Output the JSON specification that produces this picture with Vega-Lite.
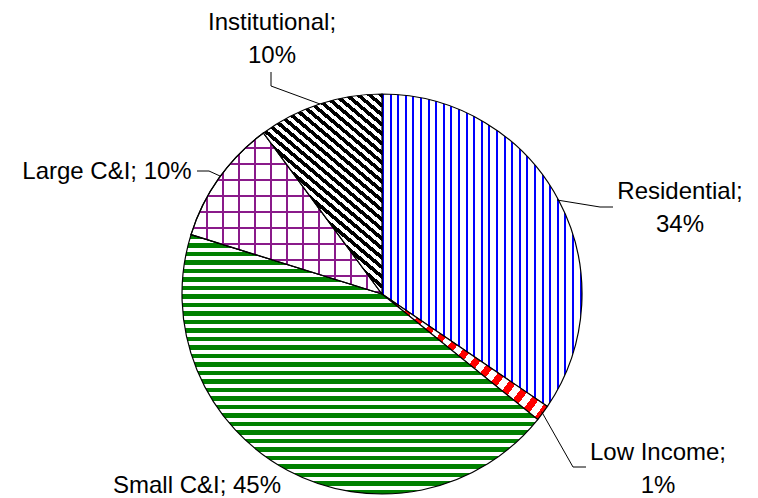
{
  "$schema": "https://vega.github.io/schema/vega-lite/v6.json",
  "width": 758,
  "height": 498,
  "autosize": "none",
  "padding": 0,
  "background": "white",
  "config": {"view": {"stroke": null}},
  "datasets": {
    "slices": [
      {"category": "Residential", "share": 34.5},
      {"category": "Low Income", "share": 1.3},
      {"category": "Small C&I", "share": 44.0},
      {"category": "Large C&I", "share": 10.1},
      {"category": "Institutional", "share": 10.1}
    ],
    "labels": [
      {"category": "Institutional", "label": "Institutional;\n10%", "x": -0.55, "y": 1.32},
      {"category": "Residential", "label": "Residential;\n34%", "x": 1.49, "y": 0.475},
      {"category": "Low Income", "label": "Low Income;\n1%", "x": 1.38, "y": -0.83},
      {"category": "Small C&I", "label": "Small C&I; 45%", "x": -0.925, "y": -0.995},
      {"category": "Large C&I", "label": "Large C&I; 10%", "x": -1.375, "y": 0.575}
    ],
    "leaders": [
      {"category": "Institutional", "pt": 0, "x": -0.555, "y": 1.11},
      {"category": "Institutional", "pt": 1, "x": -0.555, "y": 1.04},
      {"category": "Institutional", "pt": 2, "x": -0.31, "y": 0.95},
      {"category": "Residential", "pt": 0, "x": 0.875, "y": 0.47},
      {"category": "Residential", "pt": 1, "x": 1.09, "y": 0.435},
      {"category": "Residential", "pt": 2, "x": 1.155, "y": 0.435},
      {"category": "Low Income", "pt": 0, "x": 0.798, "y": -0.588},
      {"category": "Low Income", "pt": 1, "x": 0.955, "y": -0.865},
      {"category": "Low Income", "pt": 2, "x": 1.02, "y": -0.865},
      {"category": "Large C&I", "pt": 0, "x": -0.925, "y": 0.615},
      {"category": "Large C&I", "pt": 1, "x": -0.865, "y": 0.615},
      {"category": "Large C&I", "pt": 2, "x": -0.81, "y": 0.59}
    ]
  },
  "layer": [
    {
      "data": {"name": "slices"},
      "transform": [
        {"stack": "share", "groupby": [], "as": ["s0", "s1"], "offset": "zero"}
      ],
      "encoding": {
        "theta": {"field": "s0", "type": "quantitative", "scale": {"domain": [0, 100]}},
        "theta2": {"field": "s1"},
        "x": {"datum": 0, "type": "quantitative", "scale": {"domain": [-1.91, 1.88], "nice": false, "zero": false}, "axis": null},
        "y": {"datum": 0, "type": "quantitative", "scale": {"domain": [-1.02, 1.47], "nice": false, "zero": false}, "axis": null}
      },
      "layer": [
        {
          "transform": [{"filter": "datum.category === 'Residential'"}],
          "mark": {"type": "arc", "outerRadius": 200, "stroke": "black", "strokeWidth": 1.2,
            "fill": {"gradient": "linear", "x1": 0, "y1": 0, "x2": 1, "y2": 0, "stops": [
              {"offset": 0, "color": "#00f"}, {"offset": 0.01, "color": "#00f"}, {"offset": 0.01, "color": "#fff"}, {"offset": 0.038, "color": "#fff"},
              {"offset": 0.038, "color": "#00f"}, {"offset": 0.048, "color": "#00f"}, {"offset": 0.048, "color": "#fff"}, {"offset": 0.076, "color": "#fff"},
              {"offset": 0.076, "color": "#00f"}, {"offset": 0.086, "color": "#00f"}, {"offset": 0.086, "color": "#fff"}, {"offset": 0.114, "color": "#fff"},
              {"offset": 0.114, "color": "#00f"}, {"offset": 0.124, "color": "#00f"}, {"offset": 0.124, "color": "#fff"}, {"offset": 0.152, "color": "#fff"},
              {"offset": 0.152, "color": "#00f"}, {"offset": 0.162, "color": "#00f"}, {"offset": 0.162, "color": "#fff"}, {"offset": 0.19, "color": "#fff"},
              {"offset": 0.19, "color": "#00f"}, {"offset": 0.2, "color": "#00f"}, {"offset": 0.2, "color": "#fff"}, {"offset": 0.228, "color": "#fff"},
              {"offset": 0.228, "color": "#00f"}, {"offset": 0.238, "color": "#00f"}, {"offset": 0.238, "color": "#fff"}, {"offset": 0.266, "color": "#fff"},
              {"offset": 0.266, "color": "#00f"}, {"offset": 0.276, "color": "#00f"}, {"offset": 0.276, "color": "#fff"}, {"offset": 0.304, "color": "#fff"},
              {"offset": 0.304, "color": "#00f"}, {"offset": 0.314, "color": "#00f"}, {"offset": 0.314, "color": "#fff"}, {"offset": 0.342, "color": "#fff"},
              {"offset": 0.342, "color": "#00f"}, {"offset": 0.352, "color": "#00f"}, {"offset": 0.352, "color": "#fff"}, {"offset": 0.38, "color": "#fff"},
              {"offset": 0.38, "color": "#00f"}, {"offset": 0.39, "color": "#00f"}, {"offset": 0.39, "color": "#fff"}, {"offset": 0.418, "color": "#fff"},
              {"offset": 0.418, "color": "#00f"}, {"offset": 0.428, "color": "#00f"}, {"offset": 0.428, "color": "#fff"}, {"offset": 0.456, "color": "#fff"},
              {"offset": 0.456, "color": "#00f"}, {"offset": 0.466, "color": "#00f"}, {"offset": 0.466, "color": "#fff"}, {"offset": 0.494, "color": "#fff"},
              {"offset": 0.494, "color": "#00f"}, {"offset": 0.504, "color": "#00f"}, {"offset": 0.504, "color": "#fff"}, {"offset": 0.532, "color": "#fff"},
              {"offset": 0.532, "color": "#00f"}, {"offset": 0.542, "color": "#00f"}, {"offset": 0.542, "color": "#fff"}, {"offset": 0.57, "color": "#fff"},
              {"offset": 0.57, "color": "#00f"}, {"offset": 0.58, "color": "#00f"}, {"offset": 0.58, "color": "#fff"}, {"offset": 0.608, "color": "#fff"},
              {"offset": 0.608, "color": "#00f"}, {"offset": 0.618, "color": "#00f"}, {"offset": 0.618, "color": "#fff"}, {"offset": 0.646, "color": "#fff"},
              {"offset": 0.646, "color": "#00f"}, {"offset": 0.656, "color": "#00f"}, {"offset": 0.656, "color": "#fff"}, {"offset": 0.684, "color": "#fff"},
              {"offset": 0.684, "color": "#00f"}, {"offset": 0.694, "color": "#00f"}, {"offset": 0.694, "color": "#fff"}, {"offset": 0.722, "color": "#fff"},
              {"offset": 0.722, "color": "#00f"}, {"offset": 0.732, "color": "#00f"}, {"offset": 0.732, "color": "#fff"}, {"offset": 0.76, "color": "#fff"},
              {"offset": 0.76, "color": "#00f"}, {"offset": 0.77, "color": "#00f"}, {"offset": 0.77, "color": "#fff"}, {"offset": 0.798, "color": "#fff"},
              {"offset": 0.798, "color": "#00f"}, {"offset": 0.808, "color": "#00f"}, {"offset": 0.808, "color": "#fff"}, {"offset": 0.836, "color": "#fff"},
              {"offset": 0.836, "color": "#00f"}, {"offset": 0.846, "color": "#00f"}, {"offset": 0.846, "color": "#fff"}, {"offset": 0.874, "color": "#fff"},
              {"offset": 0.874, "color": "#00f"}, {"offset": 0.884, "color": "#00f"}, {"offset": 0.884, "color": "#fff"}, {"offset": 0.912, "color": "#fff"},
              {"offset": 0.912, "color": "#00f"}, {"offset": 0.922, "color": "#00f"}, {"offset": 0.922, "color": "#fff"}, {"offset": 0.95, "color": "#fff"},
              {"offset": 0.95, "color": "#00f"}, {"offset": 0.96, "color": "#00f"}, {"offset": 0.96, "color": "#fff"}, {"offset": 0.988, "color": "#fff"},
              {"offset": 0.988, "color": "#00f"}, {"offset": 0.998, "color": "#00f"}, {"offset": 0.998, "color": "#fff"}, {"offset": 1, "color": "#fff"}
            ]}}
        },
        {
          "transform": [{"filter": "datum.category === 'Low Income'"}],
          "mark": {"type": "arc", "outerRadius": 200, "stroke": "black", "strokeWidth": 1.2,
            "fill": {"gradient": "linear", "x1": 0, "y1": 0, "x2": 1.187, "y2": 0.667, "stops": [
              {"offset": 0, "color": "#f00"}, {"offset": 0.0337, "color": "#f00"}, {"offset": 0.0337, "color": "#fff"}, {"offset": 0.0674, "color": "#fff"},
              {"offset": 0.0674, "color": "#f00"}, {"offset": 0.1011, "color": "#f00"}, {"offset": 0.1011, "color": "#fff"}, {"offset": 0.1348, "color": "#fff"},
              {"offset": 0.1348, "color": "#f00"}, {"offset": 0.1685, "color": "#f00"}, {"offset": 0.1685, "color": "#fff"}, {"offset": 0.2022, "color": "#fff"},
              {"offset": 0.2022, "color": "#f00"}, {"offset": 0.2359, "color": "#f00"}, {"offset": 0.2359, "color": "#fff"}, {"offset": 0.2696, "color": "#fff"},
              {"offset": 0.2696, "color": "#f00"}, {"offset": 0.3033, "color": "#f00"}, {"offset": 0.3033, "color": "#fff"}, {"offset": 0.337, "color": "#fff"},
              {"offset": 0.337, "color": "#f00"}, {"offset": 0.3707, "color": "#f00"}, {"offset": 0.3707, "color": "#fff"}, {"offset": 0.4044, "color": "#fff"},
              {"offset": 0.4044, "color": "#f00"}, {"offset": 0.4381, "color": "#f00"}, {"offset": 0.4381, "color": "#fff"}, {"offset": 0.4718, "color": "#fff"},
              {"offset": 0.4718, "color": "#f00"}, {"offset": 0.5055, "color": "#f00"}, {"offset": 0.5055, "color": "#fff"}, {"offset": 0.5392, "color": "#fff"},
              {"offset": 0.5392, "color": "#f00"}, {"offset": 0.5729, "color": "#f00"}, {"offset": 0.5729, "color": "#fff"}, {"offset": 0.6066, "color": "#fff"},
              {"offset": 0.6066, "color": "#f00"}, {"offset": 0.6403, "color": "#f00"}, {"offset": 0.6403, "color": "#fff"}, {"offset": 0.674, "color": "#fff"},
              {"offset": 0.674, "color": "#f00"}, {"offset": 0.7077, "color": "#f00"}, {"offset": 0.7077, "color": "#fff"}, {"offset": 0.7414, "color": "#fff"},
              {"offset": 0.7414, "color": "#f00"}, {"offset": 0.7751, "color": "#f00"}, {"offset": 0.7751, "color": "#fff"}, {"offset": 0.8088, "color": "#fff"},
              {"offset": 0.8088, "color": "#f00"}, {"offset": 0.8425, "color": "#f00"}, {"offset": 0.8425, "color": "#fff"}, {"offset": 0.8762, "color": "#fff"},
              {"offset": 0.8762, "color": "#f00"}, {"offset": 0.9099, "color": "#f00"}, {"offset": 0.9099, "color": "#fff"}, {"offset": 0.9436, "color": "#fff"},
              {"offset": 0.9436, "color": "#f00"}, {"offset": 0.9773, "color": "#f00"}, {"offset": 0.9773, "color": "#fff"}, {"offset": 1, "color": "#fff"}
            ]}}
        },
        {
          "transform": [{"filter": "datum.category === 'Small C&I'"}],
          "mark": {"type": "arc", "outerRadius": 200, "stroke": "black", "strokeWidth": 1.2,
            "fill": {"gradient": "linear", "x1": 0, "y1": 0, "x2": 0, "y2": 1, "stops": [
              {"offset": 0, "color": "#008000"}, {"offset": 0.017, "color": "#008000"}, {"offset": 0.017, "color": "#fff"}, {"offset": 0.0328, "color": "#fff"},
              {"offset": 0.0328, "color": "#008000"}, {"offset": 0.0498, "color": "#008000"}, {"offset": 0.0498, "color": "#fff"}, {"offset": 0.0656, "color": "#fff"},
              {"offset": 0.0656, "color": "#008000"}, {"offset": 0.0826, "color": "#008000"}, {"offset": 0.0826, "color": "#fff"}, {"offset": 0.0984, "color": "#fff"},
              {"offset": 0.0984, "color": "#008000"}, {"offset": 0.1154, "color": "#008000"}, {"offset": 0.1154, "color": "#fff"}, {"offset": 0.1312, "color": "#fff"},
              {"offset": 0.1312, "color": "#008000"}, {"offset": 0.1482, "color": "#008000"}, {"offset": 0.1482, "color": "#fff"}, {"offset": 0.164, "color": "#fff"},
              {"offset": 0.164, "color": "#008000"}, {"offset": 0.181, "color": "#008000"}, {"offset": 0.181, "color": "#fff"}, {"offset": 0.1968, "color": "#fff"},
              {"offset": 0.1968, "color": "#008000"}, {"offset": 0.2138, "color": "#008000"}, {"offset": 0.2138, "color": "#fff"}, {"offset": 0.2296, "color": "#fff"},
              {"offset": 0.2296, "color": "#008000"}, {"offset": 0.2466, "color": "#008000"}, {"offset": 0.2466, "color": "#fff"}, {"offset": 0.2624, "color": "#fff"},
              {"offset": 0.2624, "color": "#008000"}, {"offset": 0.2794, "color": "#008000"}, {"offset": 0.2794, "color": "#fff"}, {"offset": 0.2952, "color": "#fff"},
              {"offset": 0.2952, "color": "#008000"}, {"offset": 0.3122, "color": "#008000"}, {"offset": 0.3122, "color": "#fff"}, {"offset": 0.328, "color": "#fff"},
              {"offset": 0.328, "color": "#008000"}, {"offset": 0.345, "color": "#008000"}, {"offset": 0.345, "color": "#fff"}, {"offset": 0.3608, "color": "#fff"},
              {"offset": 0.3608, "color": "#008000"}, {"offset": 0.3778, "color": "#008000"}, {"offset": 0.3778, "color": "#fff"}, {"offset": 0.3936, "color": "#fff"},
              {"offset": 0.3936, "color": "#008000"}, {"offset": 0.4106, "color": "#008000"}, {"offset": 0.4106, "color": "#fff"}, {"offset": 0.4264, "color": "#fff"},
              {"offset": 0.4264, "color": "#008000"}, {"offset": 0.4434, "color": "#008000"}, {"offset": 0.4434, "color": "#fff"}, {"offset": 0.4592, "color": "#fff"},
              {"offset": 0.4592, "color": "#008000"}, {"offset": 0.4762, "color": "#008000"}, {"offset": 0.4762, "color": "#fff"}, {"offset": 0.492, "color": "#fff"},
              {"offset": 0.492, "color": "#008000"}, {"offset": 0.509, "color": "#008000"}, {"offset": 0.509, "color": "#fff"}, {"offset": 0.5248, "color": "#fff"},
              {"offset": 0.5248, "color": "#008000"}, {"offset": 0.5418, "color": "#008000"}, {"offset": 0.5418, "color": "#fff"}, {"offset": 0.5576, "color": "#fff"},
              {"offset": 0.5576, "color": "#008000"}, {"offset": 0.5746, "color": "#008000"}, {"offset": 0.5746, "color": "#fff"}, {"offset": 0.5904, "color": "#fff"},
              {"offset": 0.5904, "color": "#008000"}, {"offset": 0.6074, "color": "#008000"}, {"offset": 0.6074, "color": "#fff"}, {"offset": 0.6232, "color": "#fff"},
              {"offset": 0.6232, "color": "#008000"}, {"offset": 0.6402, "color": "#008000"}, {"offset": 0.6402, "color": "#fff"}, {"offset": 0.656, "color": "#fff"},
              {"offset": 0.656, "color": "#008000"}, {"offset": 0.673, "color": "#008000"}, {"offset": 0.673, "color": "#fff"}, {"offset": 0.6888, "color": "#fff"},
              {"offset": 0.6888, "color": "#008000"}, {"offset": 0.7058, "color": "#008000"}, {"offset": 0.7058, "color": "#fff"}, {"offset": 0.7216, "color": "#fff"},
              {"offset": 0.7216, "color": "#008000"}, {"offset": 0.7386, "color": "#008000"}, {"offset": 0.7386, "color": "#fff"}, {"offset": 0.7544, "color": "#fff"},
              {"offset": 0.7544, "color": "#008000"}, {"offset": 0.7714, "color": "#008000"}, {"offset": 0.7714, "color": "#fff"}, {"offset": 0.7872, "color": "#fff"},
              {"offset": 0.7872, "color": "#008000"}, {"offset": 0.8042, "color": "#008000"}, {"offset": 0.8042, "color": "#fff"}, {"offset": 0.82, "color": "#fff"},
              {"offset": 0.82, "color": "#008000"}, {"offset": 0.837, "color": "#008000"}, {"offset": 0.837, "color": "#fff"}, {"offset": 0.8528, "color": "#fff"},
              {"offset": 0.8528, "color": "#008000"}, {"offset": 0.8698, "color": "#008000"}, {"offset": 0.8698, "color": "#fff"}, {"offset": 0.8856, "color": "#fff"},
              {"offset": 0.8856, "color": "#008000"}, {"offset": 0.9026, "color": "#008000"}, {"offset": 0.9026, "color": "#fff"}, {"offset": 0.9184, "color": "#fff"},
              {"offset": 0.9184, "color": "#008000"}, {"offset": 0.9354, "color": "#008000"}, {"offset": 0.9354, "color": "#fff"}, {"offset": 0.9512, "color": "#fff"},
              {"offset": 0.9512, "color": "#008000"}, {"offset": 0.9682, "color": "#008000"}, {"offset": 0.9682, "color": "#fff"}, {"offset": 0.984, "color": "#fff"},
              {"offset": 0.984, "color": "#008000"}, {"offset": 1, "color": "#008000"}
            ]}}
        },
        {
          "transform": [{"filter": "datum.category === 'Large C&I'"}],
          "mark": {"type": "arc", "outerRadius": 200, "stroke": "black", "strokeWidth": 1.2,
            "fill": {"gradient": "linear", "x1": 0, "y1": 0, "x2": 1, "y2": 0, "stops": [
              {"offset": 0, "color": "#fff"},
              {"offset": 0.078, "color": "#fff"}, {"offset": 0.078, "color": "#8a1a8a"}, {"offset": 0.0896, "color": "#8a1a8a"}, {"offset": 0.0896, "color": "#fff"},
              {"offset": 0.1618, "color": "#fff"}, {"offset": 0.1618, "color": "#8a1a8a"}, {"offset": 0.1734, "color": "#8a1a8a"}, {"offset": 0.1734, "color": "#fff"},
              {"offset": 0.2456, "color": "#fff"}, {"offset": 0.2456, "color": "#8a1a8a"}, {"offset": 0.2572, "color": "#8a1a8a"}, {"offset": 0.2572, "color": "#fff"},
              {"offset": 0.3294, "color": "#fff"}, {"offset": 0.3294, "color": "#8a1a8a"}, {"offset": 0.341, "color": "#8a1a8a"}, {"offset": 0.341, "color": "#fff"},
              {"offset": 0.4132, "color": "#fff"}, {"offset": 0.4132, "color": "#8a1a8a"}, {"offset": 0.4248, "color": "#8a1a8a"}, {"offset": 0.4248, "color": "#fff"},
              {"offset": 0.497, "color": "#fff"}, {"offset": 0.497, "color": "#8a1a8a"}, {"offset": 0.5086, "color": "#8a1a8a"}, {"offset": 0.5086, "color": "#fff"},
              {"offset": 0.5808, "color": "#fff"}, {"offset": 0.5808, "color": "#8a1a8a"}, {"offset": 0.5924, "color": "#8a1a8a"}, {"offset": 0.5924, "color": "#fff"},
              {"offset": 0.6646, "color": "#fff"}, {"offset": 0.6646, "color": "#8a1a8a"}, {"offset": 0.6762, "color": "#8a1a8a"}, {"offset": 0.6762, "color": "#fff"},
              {"offset": 0.7484, "color": "#fff"}, {"offset": 0.7484, "color": "#8a1a8a"}, {"offset": 0.76, "color": "#8a1a8a"}, {"offset": 0.76, "color": "#fff"},
              {"offset": 0.8322, "color": "#fff"}, {"offset": 0.8322, "color": "#8a1a8a"}, {"offset": 0.8438, "color": "#8a1a8a"}, {"offset": 0.8438, "color": "#fff"},
              {"offset": 0.916, "color": "#fff"}, {"offset": 0.916, "color": "#8a1a8a"}, {"offset": 0.9276, "color": "#8a1a8a"}, {"offset": 0.9276, "color": "#fff"},
              {"offset": 1, "color": "#fff"}
            ]}}
        },
        {
          "transform": [{"filter": "datum.category === 'Large C&I'"}],
          "mark": {"type": "arc", "outerRadius": 200, "stroke": "black", "strokeWidth": 1.2,
            "fill": {"gradient": "linear", "x1": 0, "y1": 0, "x2": 0, "y2": 1, "stops": [
              {"offset": 0, "color": "rgba(255,255,255,0)"},
              {"offset": 0.0881, "color": "rgba(255,255,255,0)"}, {"offset": 0.0881, "color": "#8a1a8a"}, {"offset": 0.1019, "color": "#8a1a8a"}, {"offset": 0.1019, "color": "rgba(255,255,255,0)"},
              {"offset": 0.1875, "color": "rgba(255,255,255,0)"}, {"offset": 0.1875, "color": "#8a1a8a"}, {"offset": 0.2013, "color": "#8a1a8a"}, {"offset": 0.2013, "color": "rgba(255,255,255,0)"},
              {"offset": 0.2869, "color": "rgba(255,255,255,0)"}, {"offset": 0.2869, "color": "#8a1a8a"}, {"offset": 0.3007, "color": "#8a1a8a"}, {"offset": 0.3007, "color": "rgba(255,255,255,0)"},
              {"offset": 0.3863, "color": "rgba(255,255,255,0)"}, {"offset": 0.3863, "color": "#8a1a8a"}, {"offset": 0.4001, "color": "#8a1a8a"}, {"offset": 0.4001, "color": "rgba(255,255,255,0)"},
              {"offset": 0.4857, "color": "rgba(255,255,255,0)"}, {"offset": 0.4857, "color": "#8a1a8a"}, {"offset": 0.4995, "color": "#8a1a8a"}, {"offset": 0.4995, "color": "rgba(255,255,255,0)"},
              {"offset": 0.5851, "color": "rgba(255,255,255,0)"}, {"offset": 0.5851, "color": "#8a1a8a"}, {"offset": 0.5989, "color": "#8a1a8a"}, {"offset": 0.5989, "color": "rgba(255,255,255,0)"},
              {"offset": 0.6845, "color": "rgba(255,255,255,0)"}, {"offset": 0.6845, "color": "#8a1a8a"}, {"offset": 0.6983, "color": "#8a1a8a"}, {"offset": 0.6983, "color": "rgba(255,255,255,0)"},
              {"offset": 0.7839, "color": "rgba(255,255,255,0)"}, {"offset": 0.7839, "color": "#8a1a8a"}, {"offset": 0.7977, "color": "#8a1a8a"}, {"offset": 0.7977, "color": "rgba(255,255,255,0)"},
              {"offset": 0.8833, "color": "rgba(255,255,255,0)"}, {"offset": 0.8833, "color": "#8a1a8a"}, {"offset": 0.8971, "color": "#8a1a8a"}, {"offset": 0.8971, "color": "rgba(255,255,255,0)"},
              {"offset": 0.9827, "color": "rgba(255,255,255,0)"}, {"offset": 0.9827, "color": "#8a1a8a"}, {"offset": 0.9965, "color": "#8a1a8a"}, {"offset": 0.9965, "color": "rgba(255,255,255,0)"},
              {"offset": 1, "color": "rgba(255,255,255,0)"}
            ]}}
        },
        {
          "transform": [{"filter": "datum.category === 'Institutional'"}],
          "mark": {"type": "arc", "outerRadius": 200, "stroke": "black", "strokeWidth": 1.2,
            "fill": {"gradient": "linear", "x1": 0, "y1": 1, "x2": 0.5975, "y2": -0.2003, "stops": [
              {"offset": 0, "color": "#000"}, {"offset": 0.016, "color": "#000"}, {"offset": 0.016, "color": "#fff"}, {"offset": 0.0318, "color": "#fff"},
              {"offset": 0.0318, "color": "#000"}, {"offset": 0.0478, "color": "#000"}, {"offset": 0.0478, "color": "#fff"}, {"offset": 0.0636, "color": "#fff"},
              {"offset": 0.0636, "color": "#000"}, {"offset": 0.0796, "color": "#000"}, {"offset": 0.0796, "color": "#fff"}, {"offset": 0.0954, "color": "#fff"},
              {"offset": 0.0954, "color": "#000"}, {"offset": 0.1114, "color": "#000"}, {"offset": 0.1114, "color": "#fff"}, {"offset": 0.1272, "color": "#fff"},
              {"offset": 0.1272, "color": "#000"}, {"offset": 0.1432, "color": "#000"}, {"offset": 0.1432, "color": "#fff"}, {"offset": 0.159, "color": "#fff"},
              {"offset": 0.159, "color": "#000"}, {"offset": 0.175, "color": "#000"}, {"offset": 0.175, "color": "#fff"}, {"offset": 0.1908, "color": "#fff"},
              {"offset": 0.1908, "color": "#000"}, {"offset": 0.2068, "color": "#000"}, {"offset": 0.2068, "color": "#fff"}, {"offset": 0.2226, "color": "#fff"},
              {"offset": 0.2226, "color": "#000"}, {"offset": 0.2386, "color": "#000"}, {"offset": 0.2386, "color": "#fff"}, {"offset": 0.2544, "color": "#fff"},
              {"offset": 0.2544, "color": "#000"}, {"offset": 0.2704, "color": "#000"}, {"offset": 0.2704, "color": "#fff"}, {"offset": 0.2862, "color": "#fff"},
              {"offset": 0.2862, "color": "#000"}, {"offset": 0.3022, "color": "#000"}, {"offset": 0.3022, "color": "#fff"}, {"offset": 0.318, "color": "#fff"},
              {"offset": 0.318, "color": "#000"}, {"offset": 0.334, "color": "#000"}, {"offset": 0.334, "color": "#fff"}, {"offset": 0.3498, "color": "#fff"},
              {"offset": 0.3498, "color": "#000"}, {"offset": 0.3658, "color": "#000"}, {"offset": 0.3658, "color": "#fff"}, {"offset": 0.3816, "color": "#fff"},
              {"offset": 0.3816, "color": "#000"}, {"offset": 0.3976, "color": "#000"}, {"offset": 0.3976, "color": "#fff"}, {"offset": 0.4134, "color": "#fff"},
              {"offset": 0.4134, "color": "#000"}, {"offset": 0.4294, "color": "#000"}, {"offset": 0.4294, "color": "#fff"}, {"offset": 0.4452, "color": "#fff"},
              {"offset": 0.4452, "color": "#000"}, {"offset": 0.4612, "color": "#000"}, {"offset": 0.4612, "color": "#fff"}, {"offset": 0.477, "color": "#fff"},
              {"offset": 0.477, "color": "#000"}, {"offset": 0.493, "color": "#000"}, {"offset": 0.493, "color": "#fff"}, {"offset": 0.5088, "color": "#fff"},
              {"offset": 0.5088, "color": "#000"}, {"offset": 0.5248, "color": "#000"}, {"offset": 0.5248, "color": "#fff"}, {"offset": 0.5406, "color": "#fff"},
              {"offset": 0.5406, "color": "#000"}, {"offset": 0.5566, "color": "#000"}, {"offset": 0.5566, "color": "#fff"}, {"offset": 0.5724, "color": "#fff"},
              {"offset": 0.5724, "color": "#000"}, {"offset": 0.5884, "color": "#000"}, {"offset": 0.5884, "color": "#fff"}, {"offset": 0.6042, "color": "#fff"},
              {"offset": 0.6042, "color": "#000"}, {"offset": 0.6202, "color": "#000"}, {"offset": 0.6202, "color": "#fff"}, {"offset": 0.636, "color": "#fff"},
              {"offset": 0.636, "color": "#000"}, {"offset": 0.652, "color": "#000"}, {"offset": 0.652, "color": "#fff"}, {"offset": 0.6678, "color": "#fff"},
              {"offset": 0.6678, "color": "#000"}, {"offset": 0.6838, "color": "#000"}, {"offset": 0.6838, "color": "#fff"}, {"offset": 0.6996, "color": "#fff"},
              {"offset": 0.6996, "color": "#000"}, {"offset": 0.7156, "color": "#000"}, {"offset": 0.7156, "color": "#fff"}, {"offset": 0.7314, "color": "#fff"},
              {"offset": 0.7314, "color": "#000"}, {"offset": 0.7474, "color": "#000"}, {"offset": 0.7474, "color": "#fff"}, {"offset": 0.7632, "color": "#fff"},
              {"offset": 0.7632, "color": "#000"}, {"offset": 0.7792, "color": "#000"}, {"offset": 0.7792, "color": "#fff"}, {"offset": 0.795, "color": "#fff"},
              {"offset": 0.795, "color": "#000"}, {"offset": 0.811, "color": "#000"}, {"offset": 0.811, "color": "#fff"}, {"offset": 0.8268, "color": "#fff"},
              {"offset": 0.8268, "color": "#000"}, {"offset": 0.8428, "color": "#000"}, {"offset": 0.8428, "color": "#fff"}, {"offset": 0.8586, "color": "#fff"},
              {"offset": 0.8586, "color": "#000"}, {"offset": 0.8746, "color": "#000"}, {"offset": 0.8746, "color": "#fff"}, {"offset": 0.8904, "color": "#fff"},
              {"offset": 0.8904, "color": "#000"}, {"offset": 0.9064, "color": "#000"}, {"offset": 0.9064, "color": "#fff"}, {"offset": 0.9222, "color": "#fff"},
              {"offset": 0.9222, "color": "#000"}, {"offset": 0.9382, "color": "#000"}, {"offset": 0.9382, "color": "#fff"}, {"offset": 0.954, "color": "#fff"},
              {"offset": 0.954, "color": "#000"}, {"offset": 0.97, "color": "#000"}, {"offset": 0.97, "color": "#fff"}, {"offset": 0.9858, "color": "#fff"},
              {"offset": 0.9858, "color": "#000"}, {"offset": 1, "color": "#000"}
            ]}}
        }
      ]
    },
    {
      "data": {"name": "leaders"},
      "mark": {"type": "line", "color": "black", "strokeWidth": 1},
      "encoding": {
        "x": {"field": "x", "type": "quantitative", "scale": {"domain": [-1.91, 1.88], "nice": false, "zero": false}, "axis": null},
        "y": {"field": "y", "type": "quantitative", "scale": {"domain": [-1.02, 1.47], "nice": false, "zero": false}, "axis": null},
        "detail": {"field": "category"},
        "order": {"field": "pt"}
      }
    },
    {
      "data": {"name": "labels"},
      "mark": {"type": "text", "font": "Liberation Sans", "fontSize": 24, "color": "black", "align": "center", "baseline": "alphabetic", "lineBreak": "\n", "lineHeight": 33},
      "encoding": {
        "x": {"field": "x", "type": "quantitative", "scale": {"domain": [-1.91, 1.88], "nice": false, "zero": false}, "axis": null},
        "y": {"field": "y", "type": "quantitative", "scale": {"domain": [-1.02, 1.47], "nice": false, "zero": false}, "axis": null},
        "text": {"field": "label"}
      }
    }
  ]
}
